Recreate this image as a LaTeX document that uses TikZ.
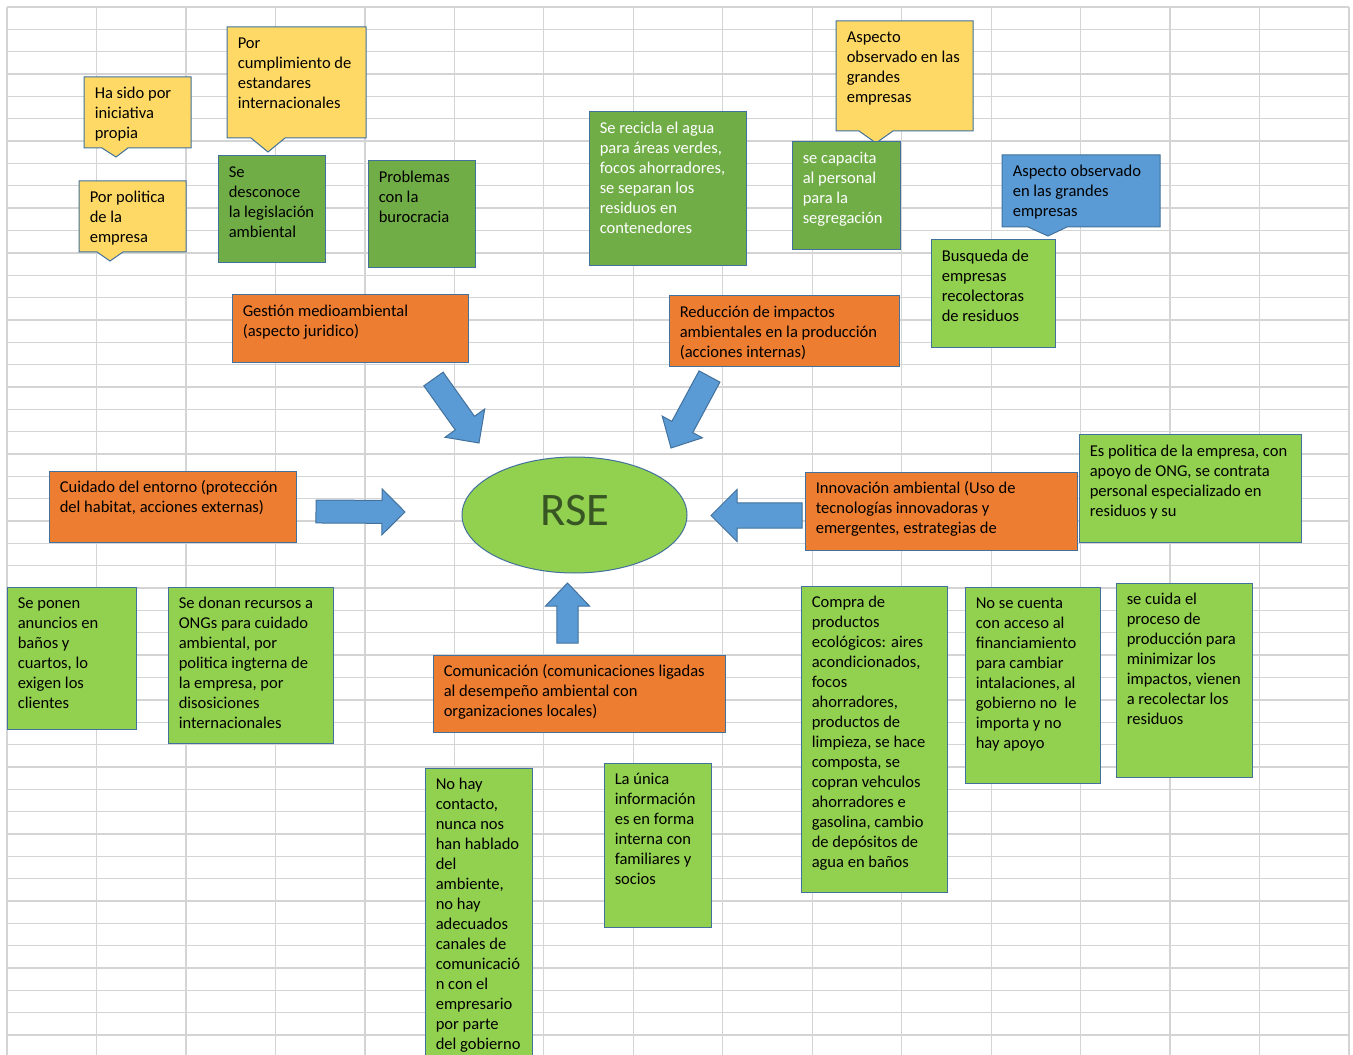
\documentclass[tikz,border=0pt]{standalone}
\usepackage{fontspec}
\setmainfont{Carlito}
\usetikzlibrary{fit,calc,shapes.geometric}
\definecolor{yel}{HTML}{FFD966}
\definecolor{dgreen}{HTML}{70AD47}
\definecolor{lgreen}{HTML}{92D050}
\definecolor{orng}{HTML}{ED7D31}
\definecolor{bluef}{HTML}{5B9BD5}
\definecolor{bord}{HTML}{41719C}
\definecolor{gridc}{HTML}{D4D4D4}
\definecolor{rsec}{HTML}{375623}
% box: name, style, x1, y1, x2, y2, text style, text
\newcommand{\bx}[8]{%
  \node[#2, fit={(#3,#4) (#5,#6)}] (#1) {};
  \node[#7, anchor=north west] (#1t) at (#3+10.5,#4+7.5) {\strut #8};
}
% block arrow: start, tip, shaft half width, head half width, head length
\newcommand{\blockarr}[5]{%
  \coordinate (#1h) at ($(#2)!#5!(#1)$);
  \path[barrow] ($(#1)!#3!90:(#2)$) -- ($(#1h)!#3!90:(#2)$) -- ($(#1h)!#4!90:(#2)$)
    -- (#2) -- ($(#1h)!#4!-90:(#2)$) -- ($(#1h)!#3!-90:(#2)$) -- ($(#1)!#3!-90:(#2)$) -- cycle;
}
\begin{document}
\begin{tikzpicture}[x={(0.75pt,0)}, y={(0,-0.75pt)},
  box/.style={draw=bord, line width=0.75pt, inner sep=0pt},
  yb/.style={box, fill=yel},
  bb/.style={box, fill=bluef},
  dg/.style={box, fill=dgreen},
  lg/.style={box, fill=lgreen},
  og/.style={box, fill=orng},
  txt/.style={inner sep=0pt, align=left, font=\fontsize{12.4}{15}\selectfont, text=black},
  wtxt/.style={txt, text=white},
  barrow/.style={fill=bluef, draw=bord, line width=0.75pt, line join=miter},
  gridline/.style={draw=gridc, line width=1pt}
]
\useasboundingbox (0,0) rectangle (1353,1055);
\fill[white] (0,0) rectangle (1353,1055);
% spreadsheet grid
\foreach \k in {0,...,15} \draw[gridline] ({7+89.47*\k},7) -- ({7+89.47*\k},1055);
\foreach \k in {0,...,46} \draw[gridline] (7,{7+22.35*\k}) -- (1349,{7+22.35*\k});

% callouts
\path[yb] (84,77) -- (191,77) -- (191,148) -- (128,148) -- (116,157) -- (102,148) -- (84,148) -- cycle;
\node[txt, anchor=north west] (c1t) at (94.5,84.5) {\strut Ha sido por\\iniciativa\\propia};
\path[yb] (79,181) -- (186,181) -- (186,252) -- (123,252) -- (110,261) -- (97,252) -- (79,252) -- cycle;
\node[txt, anchor=north west] (c2t) at (89.5,188.5) {\strut Por politica\\de la\\empresa};
\path[yb] (227,27) -- (366,27) -- (366,138) -- (285,138) -- (268,152) -- (251,138) -- (227,138) -- cycle;
\node[txt, anchor=north west] (c3t) at (237.5,34) {\strut Por\\cumplimiento de\\estandares\\internacionales};
\path[yb] (836,21) -- (973,21) -- (973,131) -- (893,131) -- (876,143) -- (859,131) -- (836,131) -- cycle;
\node[txt, anchor=north west] (c4t) at (846.5,28.5) {\strut Aspecto\\observado en las\\grandes\\empresas};
\path[bb] (1002,155) -- (1160,155) -- (1160,227) -- (1067,227) -- (1048,236) -- (1028,227) -- (1002,227) -- cycle;
\node[txt, anchor=north west] (c5t) at (1012.5,162.5) {\strut Aspecto observado\\en las grandes\\empresas};

% boxes
\bx{b4}{dg}{218}{156}{325}{263}{txt}{Se\\desconoce\\la legislación\\ambiental}
\bx{b5}{dg}{368}{161}{475}{268}{txt}{Problemas\\con la\\burocracia}
\bx{b6}{dg}{589}{112}{746}{266}{wtxt}{Se recicla el agua\\para áreas verdes,\\focos ahorradores,\\se separan los\\residuos en\\contenedores}
\bx{b8}{dg}{792}{142}{900}{250}{wtxt}{se capacita\\al personal\\para la\\segregación}
\bx{b10}{lg}{931}{240}{1055}{348}{txt}{Busqueda de\\empresas\\recolectoras\\de residuos}
\bx{b11}{lg}{1079}{435}{1301}{542}{txt}{Es politica de la empresa, con\\apoyo de ONG, se contrata\\personal especializado en\\residuos y su}
\bx{b12}{og}{232}{295}{468}{363}{txt}{Gestión medioambiental\\(aspecto juridico)}
\bx{b13}{og}{49}{471}{296}{542}{txt}{Cuidado del entorno (protección\\del habitat, acciones externas)}
\bx{b14}{og}{669}{296}{899}{367}{txt}{Reducción de impactos\\ambientales en la producción\\(acciones internas)}
\bx{b15}{og}{805}{472}{1077}{550}{txt}{Innovación ambiental (Uso de\\tecnologías innovadoras y\\emergentes, estrategias de}
\bx{b16}{lg}{7}{587}{136}{729}{txt}{Se ponen\\anuncios en\\baños y\\cuartos, lo\\exigen los\\clientes}
\bx{b17}{lg}{168}{587}{333}{743}{txt}{Se donan recursos a\\ONGs para cuidado\\ambiental, por\\politica ingterna de\\la empresa, por\\disosiciones\\internacionales}
\bx{b18}{og}{433}{655}{725}{732}{txt}{Comunicación (comunicaciones ligadas\\al desempeño ambiental con\\organizaciones locales)}
\bx{b19}{lg}{425}{768}{532}{1075}{txt}{No hay\\contacto,\\nunca nos\\han hablado\\del\\ambiente,\\no hay\\adecuados\\canales de\\comunicació\\n con el\\empresario\\por parte\\del gobierno}
\bx{b20}{lg}{604}{763}{711}{927}{txt}{La única\\información\\es en forma\\interna con\\familiares y\\socios}
\bx{b21}{lg}{801}{586}{947}{892}{txt}{Compra de\\productos\\ecológicos: aires\\acondicionados,\\focos\\ahorradores,\\productos de\\limpieza, se hace\\composta, se\\copran vehculos\\ahorradores e\\gasolina, cambio\\de depósitos de\\agua en baños}
\bx{b22}{lg}{965}{587}{1100}{783}{txt}{No se cuenta\\con acceso al\\financiamiento\\para cambiar\\intalaciones, al\\gobierno no\ \ le\\importa y no\\hay apoyo}
\bx{b23}{lg}{1116}{583}{1252}{777}{txt}{se cuida el\\proceso de\\producción para\\minimizar los\\impactos, vienen\\a recolectar los\\residuos}

% central ellipse
\node[ellipse, fill=lgreen, draw=bord, line width=0.75pt, inner sep=0pt,
      minimum width=168.75pt, minimum height=87pt] (rse) at (574.5,515) {};
\node[font=\fontsize{35}{40}\selectfont, text=rsec, anchor=base, inner sep=0pt] (rset) at (575,525) {RSE};

% block arrows
\coordinate (a1s) at (433.5,379); \coordinate (a1t) at (479,443);
\coordinate (a2s) at (709.5,376.5); \coordinate (a2t) at (671,448);
\coordinate (a3s) at (316,511.5); \coordinate (a3t) at (405,512);
\coordinate (a4s) at (802,515.5); \coordinate (a4t) at (711,515.5);
\coordinate (a5s) at (567.5,643); \coordinate (a5t) at (567.5,583);
\blockarr{a1s}{a1t}{8.85pt}{18.3pt}{18.3pt}
\blockarr{a2s}{a2t}{8.9pt}{17.1pt}{17.9pt}
\blockarr{a3s}{a3t}{8.6pt}{17.25pt}{17.25pt}
\blockarr{a4s}{a4t}{9.4pt}{19.5pt}{19.5pt}
\blockarr{a5s}{a5t}{7.9pt}{16.5pt}{17.25pt}
\end{tikzpicture}
\end{document}
